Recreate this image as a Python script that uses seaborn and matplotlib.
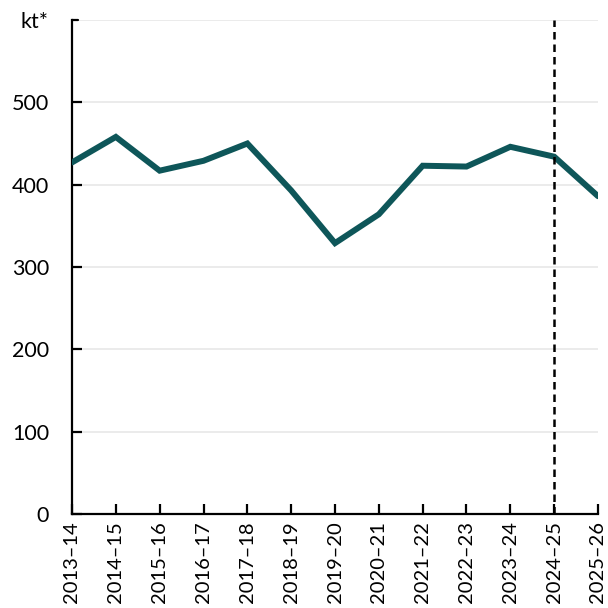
import matplotlib
matplotlib.use("Agg")
import matplotlib.pyplot as plt
import seaborn as sns
import pandas as pd

years = ["2013–14", "2014–15", "2015–16", "2016–17", "2017–18", "2018–19", "2019–20",
         "2020–21", "2021–22", "2022–23", "2023–24", "2024–25", "2025–26"]
values = [427, 458, 417, 429, 450, 393, 329, 364, 423, 422, 446, 434, 386]
y_ticks = [0, 100, 200, 300, 400, 500]
unit_label = "kt*"
marker_year = "2024–25"

sns.set_theme(style="white")
plt.rcParams["font.family"] = ["Lato", "DejaVu Sans"]

df = pd.DataFrame({"year": years, "value": values})
df["pos"] = range(len(years))

fig = plt.figure(figsize=(6.08, 6.08), dpi=100)
ax = fig.add_axes([72/608, 1-514/608, (598-72)/608, (514-20)/608])

for yv in [100, 200, 300, 400, 500, 600]:
    ax.axhline(yv, color="#EBEBEB", lw=1.4, zorder=0)

sns.lineplot(data=df, x="pos", y="value", ax=ax, color="#0E5659", lw=4.3,
             solid_joinstyle="miter", zorder=3)

ax.axvline(years.index(marker_year), color="black", lw=1.8, ls=(0, (3, 2)), zorder=4)

ax.set_xlim(0, len(years) - 1)
ax.set_ylim(0, 600)
ax.set_xticks(range(len(years)))
ax.set_xticklabels(years, rotation=90, fontsize=14.5)
ax.set_yticks(y_ticks)
ax.set_yticklabels([str(t) for t in y_ticks], fontsize=15.5)
ax.set_xlabel("")
ax.set_ylabel("")

for s in ["top", "right"]:
    ax.spines[s].set_visible(False)
for s in ["left", "bottom"]:
    ax.spines[s].set_color("black")
    ax.spines[s].set_linewidth(1.6)

ax.tick_params(axis="both", direction="in", length=7, width=1.6, color="black",
               labelcolor="black", left=True, bottom=True)
ax.tick_params(axis="x", pad=5)
ax.tick_params(axis="y", pad=16.5)
ax.plot([0, 0.012], [600, 600], transform=ax.get_yaxis_transform(), color="black",
        lw=1.6, clip_on=False)

fig.text(20/608, 1-28/608, unit_label, fontsize=15.5, color="black", ha="left", va="baseline")

fig.savefig("out.png", dpi=100)
